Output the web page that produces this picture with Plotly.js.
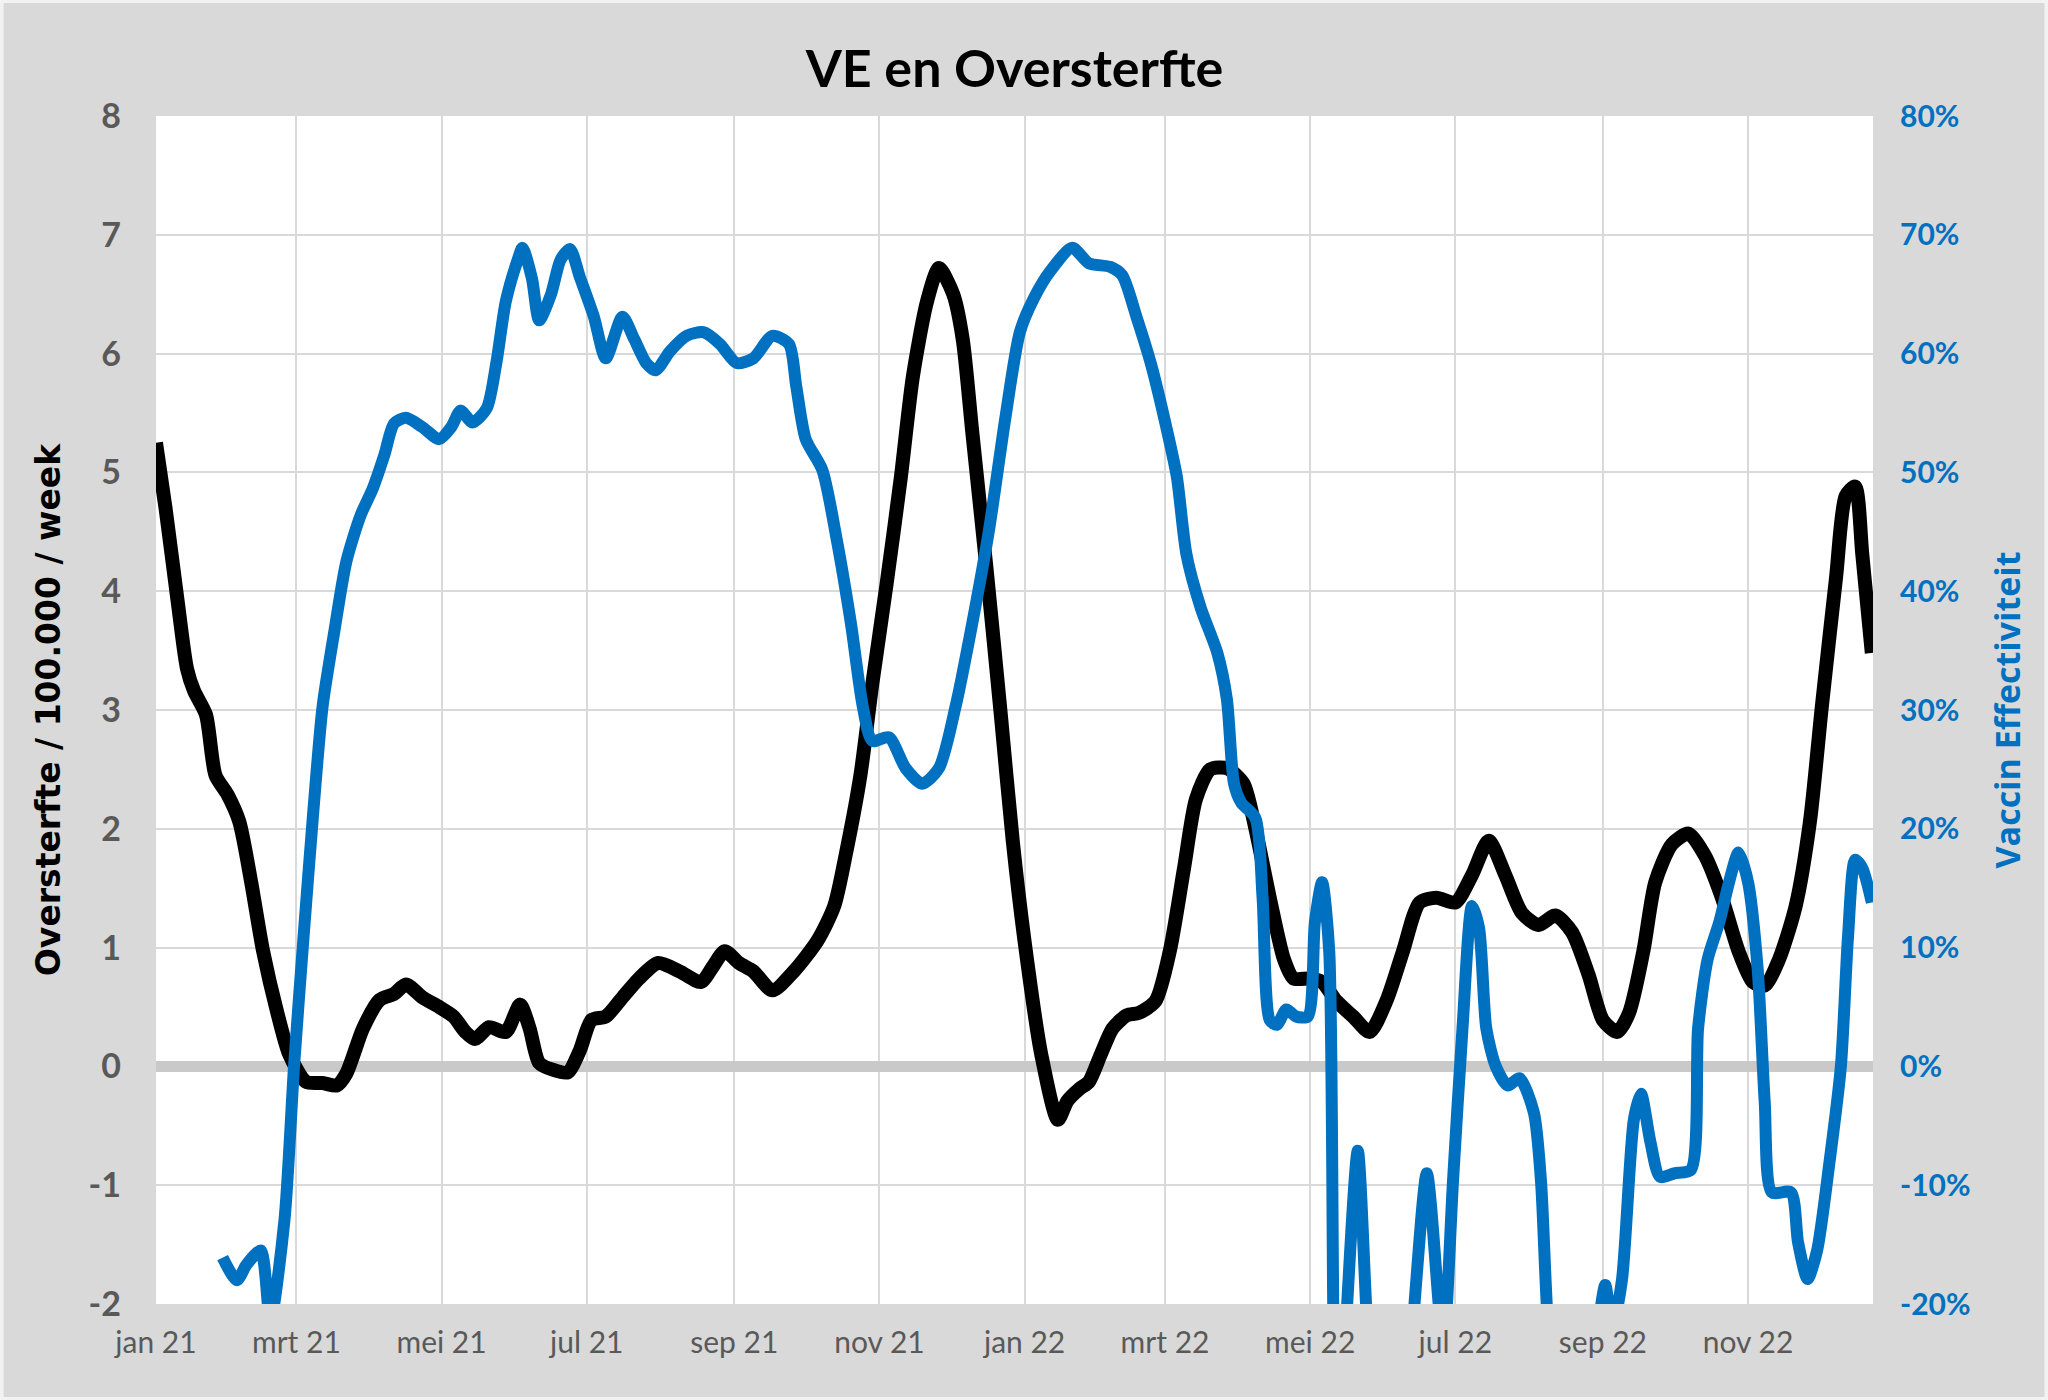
<!DOCTYPE html>
<html>
<head>
<meta charset="utf-8">
<script src="https://cdn.plot.ly/plotly-3.0.1.min.js"></script>
<style>
html,body{margin:0;padding:0;background:#d9d9d9;}
#chart{width:2048px;height:1400px;}
</style>
</head>
<body>
<div id="chart"></div>
<script>
// Days since 1 Jan 2021
const overDays = [0,4,9,13,16,21,25,30,35,40,45,51,56,63,70,76,80,87,94,100,105,112,119,125,130,134,140,147,153,157,161,167,173,178,183,189,196,203,211,220,229,234,239,245,251,259,268,278,285,290,296,301,307,313,318,324,329,335,339,343,349,355,360,365,372,379,383,388,392,397,402,408,413,420,426,432,437,443,450,457,462,468,474,478,485,490,496,503,510,517,524,531,538,546,553,560,567,574,581,588,595,602,608,614,619,625,630,637,644,651,658,665,671,676,682,689,695,700,706,710,714,717,721];
const oversterfte = [5.25,4.70,3.93,3.35,3.16,2.96,2.45,2.29,2.06,1.55,0.97,0.45,0.10,-0.13,-0.14,-0.16,-0.06,0.32,0.56,0.61,0.69,0.58,0.50,0.42,0.29,0.23,0.33,0.29,0.52,0.32,0.03,-0.03,-0.05,0.13,0.39,0.42,0.58,0.74,0.87,0.80,0.71,0.84,0.97,0.87,0.80,0.64,0.80,1.06,1.35,1.80,2.45,3.22,4.06,4.96,5.80,6.44,6.72,6.50,6.12,5.34,4.19,2.96,1.90,1.05,0.10,-0.45,-0.29,-0.19,-0.13,0.10,0.32,0.43,0.45,0.55,0.97,1.67,2.25,2.50,2.51,2.38,2.00,1.42,0.90,0.74,0.74,0.71,0.55,0.42,0.29,0.55,0.97,1.38,1.42,1.38,1.61,1.90,1.61,1.29,1.19,1.27,1.13,0.77,0.39,0.29,0.45,0.97,1.55,1.87,1.96,1.77,1.42,0.97,0.71,0.68,0.90,1.35,2.06,3.03,4.12,4.80,4.88,4.31,3.48];

const veDays = [28,34,38,44,48,54,58,62,66,70,75,80,86,91,96,100,105,112,119,124,128,133,139,143,147,152,154,158,161,166,170,174,178,184,189,196,201,206,210,216,223,230,237,244,251,259,266,269,273,280,286,292,297,301,308,315,322,329,336,343,350,357,363,369,376,385,392,401,406,412,418,425,429,433,439,446,450,453,456,462,465,468,471,475,479,484,487,490,493,495,497,500,505,509,514,522,528,534,539,541,545,549,553,556,559,563,568,573,579,582,585,592,600,606,609,612,616,621,624,628,632,638,645,648,652,657,661,665,669,673,676,679,687,690,694,698,703,708,711,714,717,721];
const vaccinEffectiviteit = [-16.1,-18.0,-16.7,-15.5,-21.5,-12.9,0,10.9,21.2,30.3,36.7,42.5,46.4,48.6,51.5,54.1,54.6,53.8,52.8,53.8,55.2,54.2,55.4,59.2,64.4,67.9,68.9,66.3,62.8,65.0,67.9,68.8,66.5,63.1,59.6,63.1,61.2,59.2,58.6,60.2,61.5,61.8,60.8,59.2,59.6,61.5,60.8,57.3,52.8,50.2,44.4,37.3,30.3,27.4,27.7,25.1,23.8,25.1,30.3,37.3,45.1,54.7,61.8,64.7,67.0,68.9,67.6,67.3,66.6,63.1,59.2,53.4,49.6,43.1,38.6,34.8,30.9,23.8,22.2,20.9,14.2,3.9,3.5,4.8,4.2,4.2,12.2,15.5,9.7,-25,-35,-22,-7.1,-22,-35,-35,-22,-9.0,-20,-24,-9.7,3.2,13.5,11.6,3.2,0,-1.6,-1.0,-3.9,-9.7,-22,-35,-35,-22,-18.4,-22,-18,-4.5,-2.3,-6.4,-9.3,-9.0,-8.7,3.2,9.0,12.2,15.5,18.0,15.5,8.3,-3.0,-10.6,-10.6,-14.8,-17.9,-15.5,-8.4,0,10.9,17.4,16.7,13.8];

const monthTickVals = [0,59,120,181,243,304,365,424,485,546,608,669];
const monthTickText = ['jan 21','mrt 21','mei 21','jul 21','sep 21','nov 21','jan 22','mrt 22','mei 22','jul 22','sep 22','nov 22'];
const leftTickVals = [-2,-1,0,1,2,3,4,5,6,7,8];
const leftTickText = ['-2','-1','0','1','2','3','4','5','6','7','8'];
const rightTickVals = [-20,-10,0,10,20,30,40,50,60,70,80];
const rightTickText = ['-20%','-10%','0%','10%','20%','30%','40%','50%','60%','70%','80%'];

const traces = [
  {x: overDays, y: oversterfte, type:'scatter', mode:'lines', name:'Oversterfte',
   line:{color:'#000000', width:14, shape:'spline', smoothing:0.7}, yaxis:'y'},
  {x: veDays, y: vaccinEffectiviteit, type:'scatter', mode:'lines', name:'VE',
   line:{color:'#0070c0', width:12, shape:'spline', smoothing:0.7}, yaxis:'y2'}
];

const layout = {
  width:2048, height:1400,
  paper_bgcolor:'#d9d9d9', plot_bgcolor:'#ffffff',
  margin:{l:156, r:175, t:116, b:96},
  showlegend:false,
  title:{text:'<b>VE en Oversterfte</b>', x:0.5, xref:'paper', y:0.951, yref:'container', yanchor:'middle',
         font:{family:'Lato', size:52, color:'#000000'}},
  xaxis:{range:[0,721.5], tickmode:'array', tickvals:monthTickVals, ticktext:monthTickText,
         showgrid:true, gridcolor:'#d9d9d9', gridwidth:2, zeroline:false, showline:false,
         ticks:'', ticklabelstandoff:18,
         tickfont:{family:'Lato', size:30, color:'#595959'}},
  yaxis:{range:[-2,8], tickmode:'array', tickvals:leftTickVals, ticktext:leftTickText,
         showgrid:true, gridcolor:'#d9d9d9', gridwidth:2,
         zeroline:true, zerolinecolor:'#c9c9c9', zerolinewidth:11, showline:false,
         ticks:'', ticklabelstandoff:34,
         tickfont:{family:'Lato', size:34, color:'#595959', weight:'bold'},
         title:{text:'<b>Oversterfte / 100.000 / week</b>', standoff:18,
                font:{family:'DejaVu Sans', size:33, color:'#000000'}}},
  yaxis2:{range:[-20,80], overlaying:'y', side:'right', tickmode:'array', tickvals:rightTickVals, ticktext:rightTickText,
          showgrid:false, zeroline:false, showline:false, ticks:'', ticklabelstandoff:26,
          tickfont:{family:'Lato', size:30, color:'#0070c0', weight:'bold'},
          title:{text:'<b>Vaccin Effectiviteit</b>', standoff:26,
                 font:{family:'Open Sans', size:34, color:'#0070c0'}}},
  shapes:[
    {type:'line', xref:'paper', yref:'y', x0:0, x1:1, y0:0, y1:0, layer:'between',
     line:{color:'#b4b4b4', width:4}},
    {type:'rect', xref:'paper', yref:'paper', x0:-0.0899, x1:1.1010, y0:-0.0800, y1:1.0968,
     line:{color:'#f2f2f2', width:4}, fillcolor:'rgba(0,0,0,0)'}
  ]
};

Plotly.newPlot('chart', traces, layout, {displayModeBar:false, staticPlot:true});
</script>
</body>
</html>
